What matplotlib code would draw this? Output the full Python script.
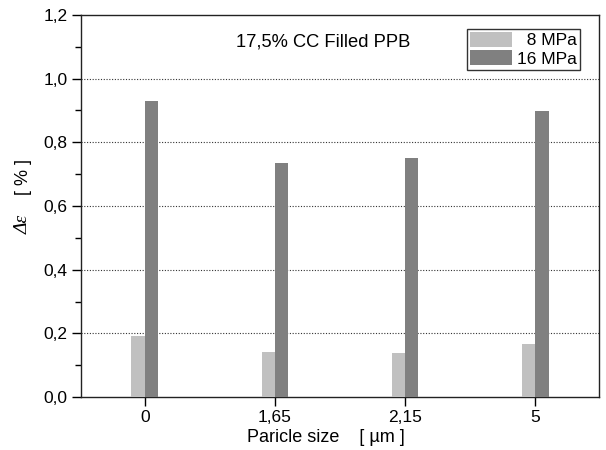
import matplotlib
matplotlib.use("Agg")
import matplotlib.pyplot as plt
import numpy as np
from matplotlib.ticker import MultipleLocator

plt.rcParams['font.family'] = ['Liberation Sans', 'DejaVu Sans']

categories = ["0", "1,65", "2,15", "5"]
strain_8mpa = [0.192, 0.140, 0.137, 0.165]
strain_16mpa = [0.931, 0.734, 0.752, 0.898]
y_ticks = [0.0, 0.2, 0.4, 0.6, 0.8, 1.0, 1.2]
y_tick_labels = ["0,0", "0,2", "0,4", "0,6", "0,8", "1,0", "1,2"]

W, H = 606, 450
fig = plt.figure(figsize=(W / 100, H / 100), dpi=100)
ax = fig.add_axes([81 / W, 1 - 397 / H, 518 / W, 382 / H])

x = np.arange(len(categories))
w = 0.102
# leading spaces keep the legend labels right-aligned
ax.bar(x - w / 2, strain_8mpa, width=w, color="#c0c0c0", label="  8 MPa", zorder=3)
ax.bar(x + w / 2, strain_16mpa, width=w, color="#808080", label="16 MPa", zorder=3)

ax.set_xlim(-0.49, 3.49)
ax.set_ylim(0, 1.2)
ax.set_xticks(x)
ax.set_xticklabels(categories)
ax.set_yticks(y_ticks)
ax.set_yticklabels(y_tick_labels)
ax.yaxis.set_minor_locator(MultipleLocator(0.1))
ax.tick_params(axis="both", which="major", direction="out", length=6.5, width=1,
               labelsize=12.5, pad=3)
ax.tick_params(axis="y", which="minor", direction="out", length=4, width=1)

for v in [0.2, 0.4, 0.6, 0.8, 1.0]:
    ax.axhline(v, color="#333333", linestyle=(0, (1, 1.5)), linewidth=0.8, zorder=1)

for s in ax.spines.values():
    s.set_linewidth(1.0)
    s.set_color("#222222")

ax.set_xlabel("Paricle size    [ \u00b5m ]", fontsize=13)
ax.xaxis.set_label_coords(0.473, -0.085)

# y-axis label: symbol part in a serif italic, unit part in the sans font
fig.text(23 / W, 1 - 224 / H, "\u0394\u03b5", rotation=90, ha="center", va="center",
         fontsize=14, family="Liberation Serif", style="italic")
fig.text(23 / W, 1 - 177 / H, "[ % ]", rotation=90, ha="center", va="center",
         fontsize=13)

ax.text(0.467, 0.929, "17,5% CC Filled PPB", transform=ax.transAxes,
        ha="center", va="center", fontsize=13.2)

leg = ax.legend(loc="upper right", bbox_to_anchor=(0.9635, 0.964), frameon=True,
                fancybox=False, edgecolor="black", fontsize=12.5,
                handlelength=2.4, handleheight=0.95, handletextpad=0.3,
                borderpad=0.18, labelspacing=0.1, borderaxespad=0.0)
leg.get_frame().set_linewidth(1.0)

fig.savefig("out.png", dpi=100)
